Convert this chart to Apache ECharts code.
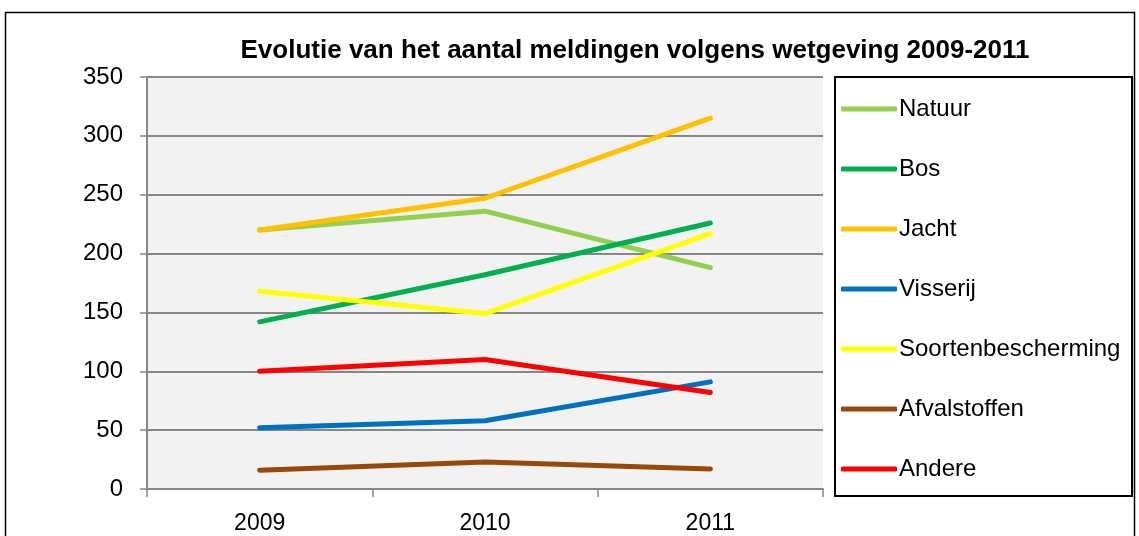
<!DOCTYPE html>
<html><head><meta charset="utf-8">
<script src="https://cdn.jsdelivr.net/npm/echarts@6/dist/echarts.min.js"></script>
<style>html,body{margin:0;padding:0;background:#fff}#c{width:1139px;height:536px}</style>
</head><body><div id="c"></div>
<script>
const categories = ['2009', '2010', '2011'];
const natuur = [220, 236, 188];
const bos = [142, 182, 226];
const jacht = [220, 247, 315];
const visserij = [52, 58, 91];
const soortenbescherming = [168, 149, 217];
const afvalstoffen = [16, 23, 17];
const andere = [100, 110, 82];
const yTicks = [0, 50, 100, 150, 200, 250, 300, 350];

const seriesDefs = [
  ['Natuur', natuur, '#92d050'],
  ['Bos', bos, '#00b050'],
  ['Jacht', jacht, '#ffc000'],
  ['Visserij', visserij, '#0070c0'],
  ['Soortenbescherming', soortenbescherming, '#ffff00'],
  ['Afvalstoffen', afvalstoffen, '#984807'],
  ['Andere', andere, '#ff0000']
];
const FONT = '"Liberation Sans", Arial, sans-serif';
const chart = echarts.init(document.getElementById('c'), null, {renderer: 'canvas'});
chart.setOption({
  animation: false,
  backgroundColor: '#ffffff',
  title: {
    text: 'Evolutie van het aantal meldingen volgens wetgeving 2009-2011',
    left: 630, top: 33, textAlign: 'center',
    textStyle: {fontFamily: FONT, fontSize: 26, fontWeight: 'bold', color: '#000'}
  },
  graphic: [
    {type: 'rect', shape: {x: 5.5, y: 12.5, width: 1129, height: 600}, style: {fill: 'none', stroke: '#000', lineWidth: 1.5}, z: 0},
    {type: 'rect', shape: {x: 835, y: 77, width: 297, height: 419}, style: {fill: '#fff', stroke: '#000', lineWidth: 2}, z: 1}
  ],
  legend: {
    orient: 'vertical', left: 841, top: 97, padding: 0,
    itemWidth: 56, itemHeight: 5, itemGap: 36,
    icon: 'roundRect',
    textStyle: {fontFamily: FONT, fontSize: 24, color: '#000', lineHeight: 24, padding: [0, 0, 0, -3]},
    data: seriesDefs.map(s => s[0]), z: 5
  },
  grid: {left: 147, right: 316, top: 77, bottom: 47, show: true, backgroundColor: '#f2f2f2', borderWidth: 0},
  xAxis: {
    type: 'category', data: categories, boundaryGap: true,
    axisLine: {lineStyle: {color: '#878787', width: 2}},
    axisTick: {show: true, length: 8, lineStyle: {color: '#878787', width: 1.5}},
    axisLabel: {fontFamily: FONT, fontSize: 23, color: '#000', margin: 23}
  },
  yAxis: {
    type: 'value', min: 0, max: 350, interval: 50,
    axisLine: {show: true, lineStyle: {color: '#878787', width: 2}},
    axisTick: {show: true, length: 7, lineStyle: {color: '#878787', width: 1.5}},
    axisLabel: {fontFamily: FONT, fontSize: 24, color: '#000', margin: 24,
      formatter: v => yTicks.includes(v) ? String(v) : ''},
    splitLine: {lineStyle: {color: '#878787', width: 2}}
  },
  series: seriesDefs.map(([name, data, color]) => ({
    name, type: 'line', data, showSymbol: false, symbol: 'none',
    lineStyle: {color, width: 5, cap: 'round', join: 'round'},
    itemStyle: {color}
  }))
});
</script></body></html>
